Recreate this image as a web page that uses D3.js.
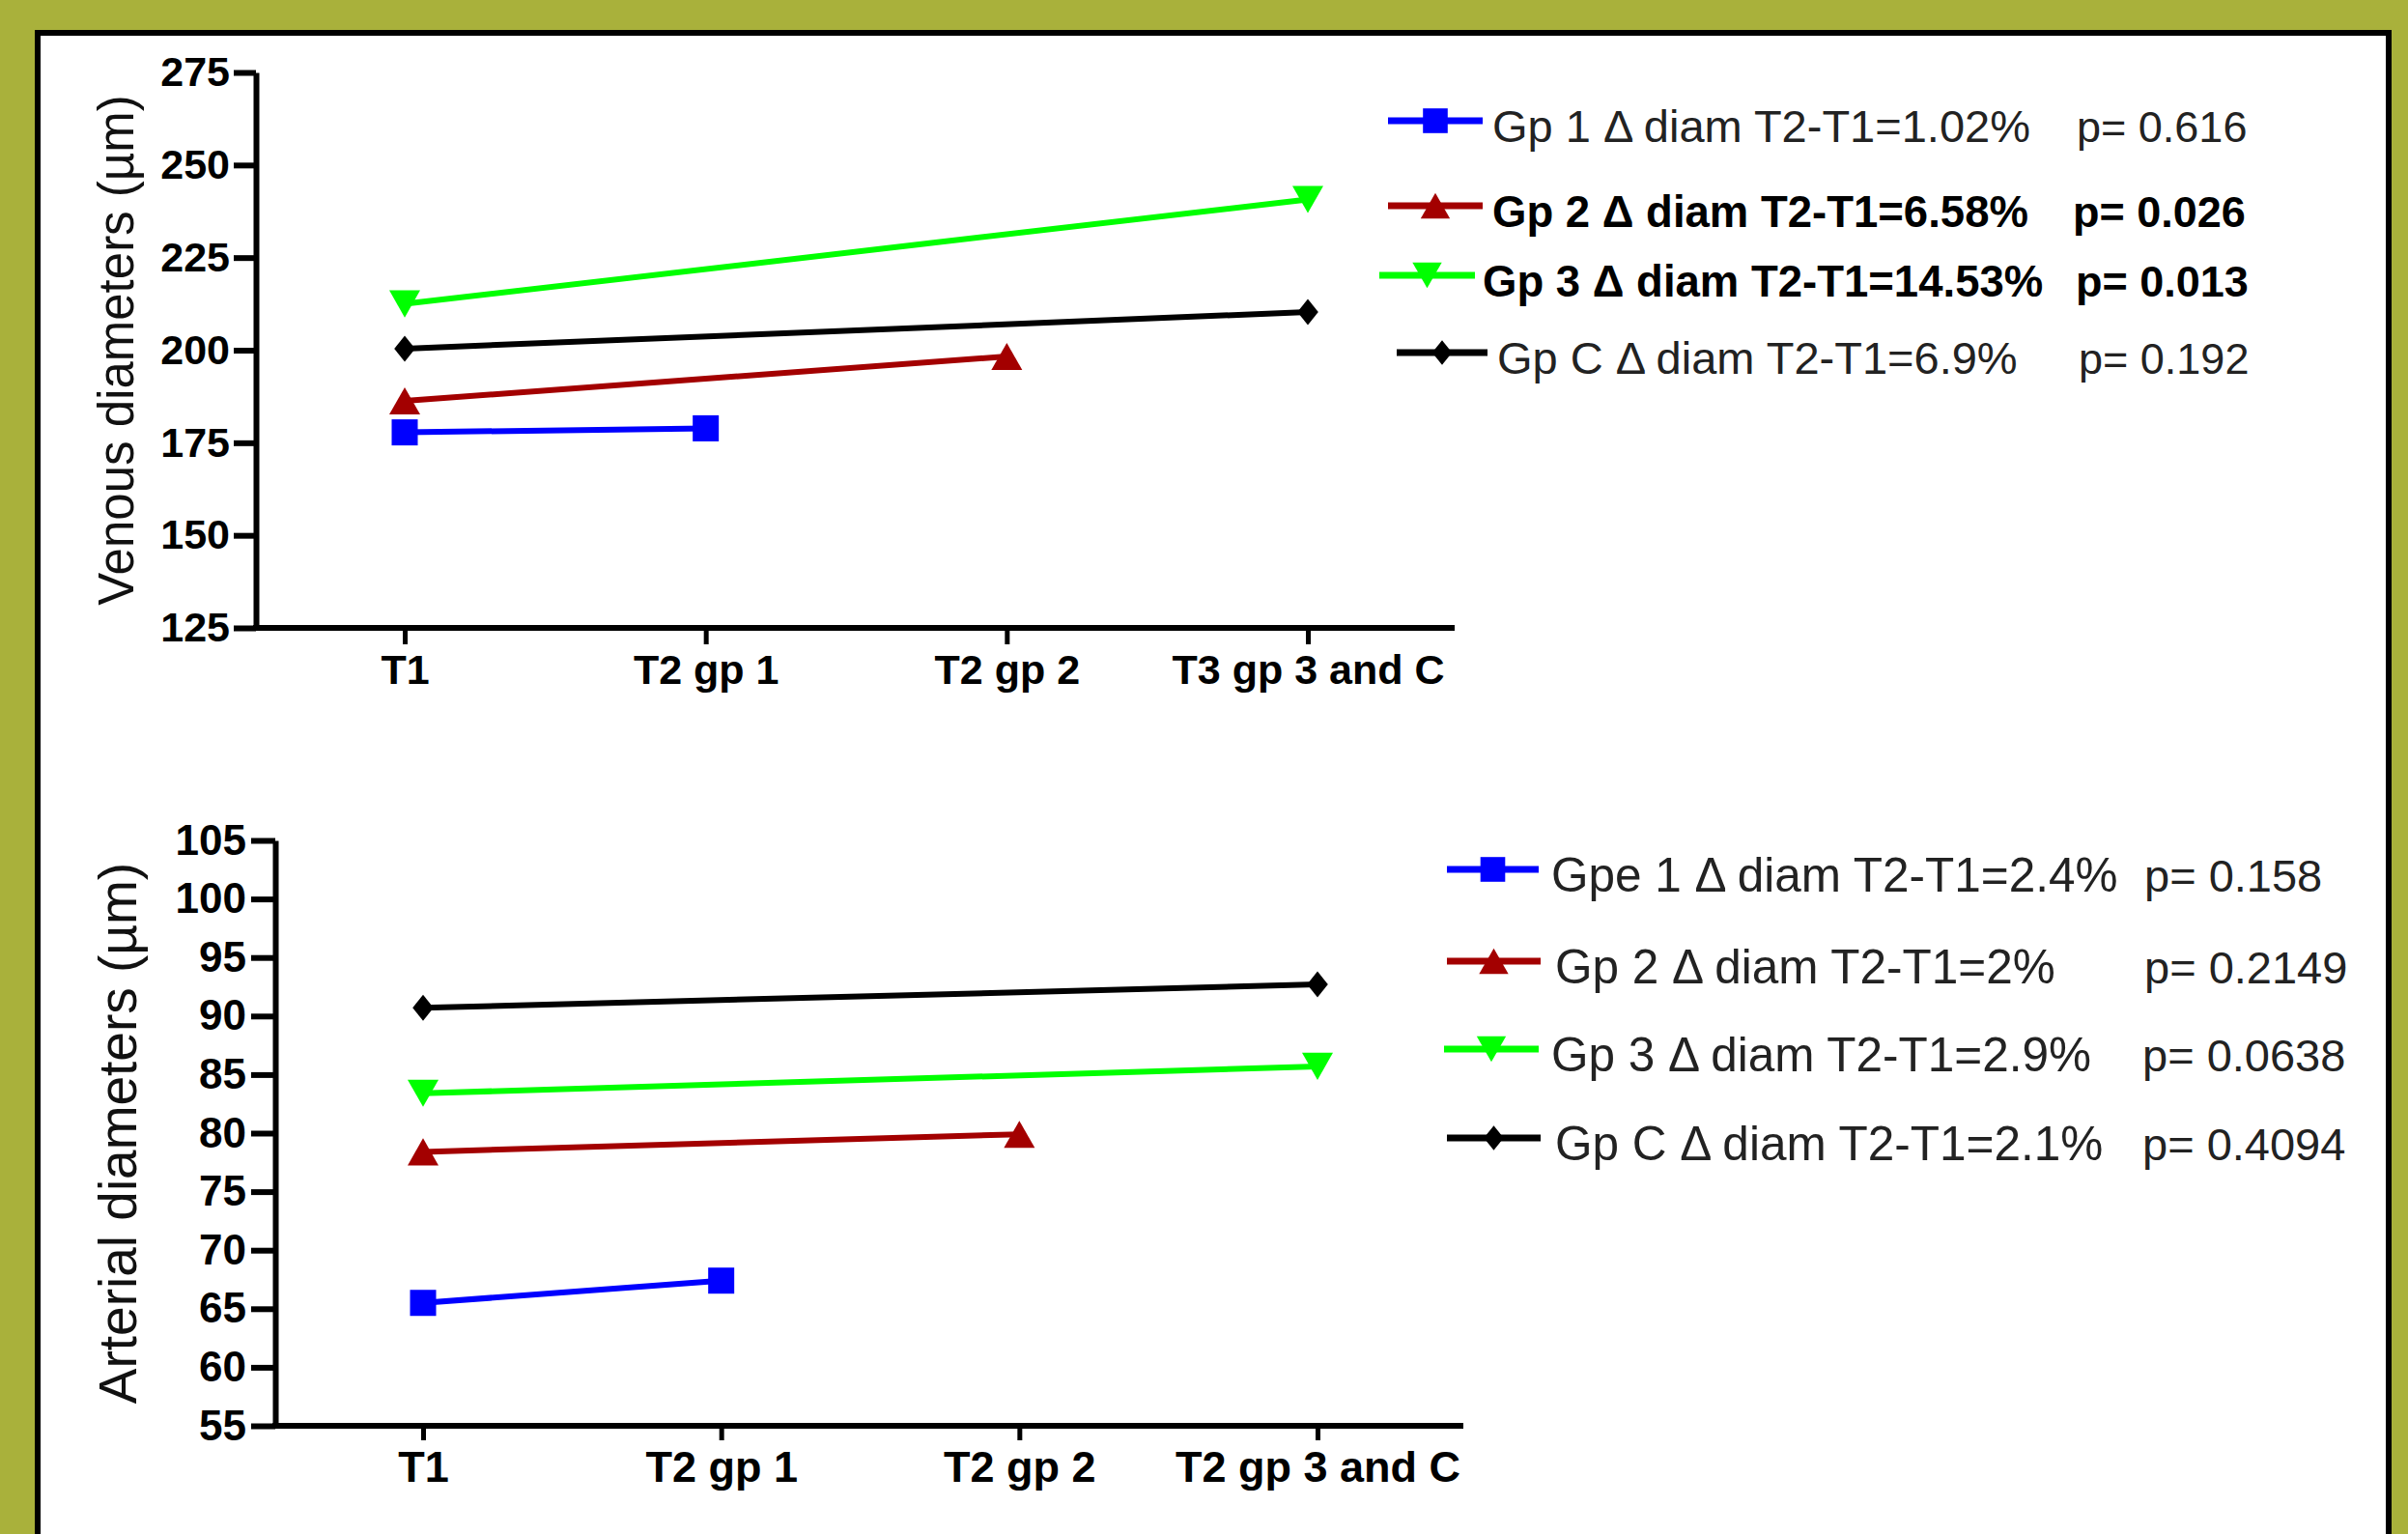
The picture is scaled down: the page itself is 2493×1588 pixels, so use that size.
<!DOCTYPE html>
<html>
<head>
<meta charset="utf-8">
<title>Venous and arterial diameters</title>
<script src="https://d3js.org/d3.v7.min.js"></script>
<style>
  body { margin: 0; background: #a9b13b; }
  svg { display: block; }
</style>
</head>
<body>
<div id="chart"></div>
<script>
// x categories
const venousTimes = ['T1', 'T2 gp 1', 'T2 gp 2', 'T3 gp 3 and C'];
const arterialTimes = ['T1', 'T2 gp 1', 'T2 gp 2', 'T2 gp 3 and C'];

// which category holds the second measure of each group (Gp 1, Gp 2, Gp 3, Gp C)
const secondTimeIndex = [1, 2, 3, 3];

// diameters in µm, [T1, T2] per group
const venousGp1 = [177.8, 178.9];
const venousGp2 = [186.3, 198.3];
const venousGp3 = [212.5, 240.7];
const venousGpC = [200.4, 210.3];

const arterialGp1 = [65.5, 67.4];
const arterialGp2 = [78.4, 79.9];
const arterialGp3 = [83.4, 85.7];
const arterialGpC = [90.7, 92.7];

// y ticks
const venousTicks = [125, 150, 175, 200, 225, 250, 275];
const arterialTicks = [55, 60, 65, 70, 75, 80, 85, 90, 95, 100, 105];

// legend texts
const venousLegend = ['Gp 1 \u0394 diam T2-T1=1.02%', 'Gp 2 \u0394 diam T2-T1=6.58%',
                      'Gp 3 \u0394 diam T2-T1=14.53%', 'Gp C \u0394 diam T2-T1=6.9%'];
const venousP = ['p= 0.616', 'p= 0.026', 'p= 0.013', 'p= 0.192'];
const arterialLegend = ['Gpe 1 \u0394 diam T2-T1=2.4%', 'Gp 2 \u0394 diam T2-T1=2%',
                        'Gp 3 \u0394 diam T2-T1=2.9%', 'Gp C \u0394 diam T2-T1=2.1%'];
const arterialP = ['p= 0.158', 'p= 0.2149', 'p= 0.0638', 'p= 0.4094'];

const colors = ['#0000ff', '#a30000', '#00ff00', '#000000'];
const font = '"Liberation Sans", Arial, sans-serif';

// marker shapes, centred on the point
const square = { draw(c, size) { const s = Math.sqrt(size) / 2; c.rect(-s, -s, 2 * s, 2 * s); } };
const triUp = { draw(c, size) { const w = Math.sqrt(size), h = w * 0.88;
  c.moveTo(0, -h / 2); c.lineTo(w / 2, h / 2); c.lineTo(-w / 2, h / 2); c.closePath(); } };
const triDown = { draw(c, size) { const w = Math.sqrt(size), h = w * 0.88;
  c.moveTo(0, h / 2); c.lineTo(w / 2, -h / 2); c.lineTo(-w / 2, -h / 2); c.closePath(); } };
const diamond = { draw(c, size) { const w = Math.sqrt(size) * 0.8, h = Math.sqrt(size);
  c.moveTo(0, -h / 2); c.lineTo(w / 2, 0); c.lineTo(0, h / 2); c.lineTo(-w / 2, 0); c.closePath(); } };
const shapes = [square, triUp, triDown, diamond];
const shapeSize = [27 * 27, 32 * 32, 32 * 32, 27 * 27];

const W = 2493, H = 1588;
const svg = d3.select('#chart').append('svg')
  .attr('width', W).attr('height', H)
  .attr('font-family', font);

svg.append('rect').attr('width', W).attr('height', H).attr('fill', '#a9b13b');
svg.append('rect')
  .attr('x', 39).attr('y', 34).attr('width', 2473 - 39).attr('height', H)
  .attr('fill', '#fff').attr('stroke', '#000').attr('stroke-width', 6);

function drawPanel(p) {
  const g = svg.append('g');

  const x = d3.scalePoint().domain(p.times).range(p.xRange);
  const y = d3.scaleLinear().domain(d3.extent(p.ticks)).range([p.bottom, p.top]);

  // y axis
  const yAxis = g.append('g')
    .attr('transform', `translate(${p.left},0)`)
    .call(d3.axisLeft(y).tickValues(p.ticks).tickSize(p.yTick).tickSizeOuter(0).tickPadding(p.yPad));
  yAxis.select('.domain').attr('stroke-width', 6).attr('stroke', '#000');
  yAxis.selectAll('.tick line').attr('stroke-width', 6);
  yAxis.selectAll('.tick text')
    .attr('font-size', p.tickFont).attr('font-weight', 'bold').attr('font-family', font).attr('fill', '#000');

  // x axis
  const xAxis = g.append('g')
    .attr('transform', `translate(0,${p.bottom})`)
    .call(d3.axisBottom(x).tickSize(p.xTick).tickSizeOuter(0).tickPadding(p.xPad));
  xAxis.select('.domain').remove();
  xAxis.selectAll('.tick line').attr('stroke-width', 5);
  xAxis.selectAll('.tick text')
    .attr('font-size', p.xFont).attr('font-weight', 'bold').attr('font-family', font).attr('fill', '#000');
  g.append('line')
    .attr('x1', p.left - 3).attr('x2', p.right)
    .attr('y1', p.bottom).attr('y2', p.bottom)
    .attr('stroke', '#000').attr('stroke-width', 6);

  // y title
  g.append('text')
    .attr('transform', `translate(${p.titleX},${(p.top + p.bottom) / 2}) rotate(-90)`)
    .attr('text-anchor', 'middle')
    .attr('font-size', p.titleFont)
    .attr('fill', '#111')
    .text(p.title);

  // group lines and markers
  const line = d3.line().x(d => x(d.t)).y(d => y(d.v));
  p.series.forEach((vals, i) => {
    const pts = [{ t: p.times[0], v: vals[0] }, { t: p.times[secondTimeIndex[i]], v: vals[1] }];
    g.append('path').datum(pts)
      .attr('d', line).attr('fill', 'none')
      .attr('stroke', colors[i]).attr('stroke-width', 6);
    g.selectAll(null).data(pts).enter().append('path')
      .attr('transform', d => `translate(${x(d.t)},${y(d.v)})`)
      .attr('d', d3.symbol().type(shapes[i]).size(shapeSize[i]))
      .attr('fill', colors[i]);
  });

  // legend
  const L = p.legend;
  p.labels.forEach((lab, i) => {
    const ly = L.y[i];
    g.append('line')
      .attr('x1', L.x0[i]).attr('x2', L.x1[i]).attr('y1', ly).attr('y2', ly)
      .attr('stroke', colors[i]).attr('stroke-width', 7);
    g.append('path')
      .attr('transform', `translate(${(L.x0[i] + L.x1[i]) / 2},${ly})`)
      .attr('d', d3.symbol().type(shapes[i]).size(shapeSize[i] * 0.9))
      .attr('fill', colors[i]);
    const weight = L.bold[i] ? 'bold' : 'normal';
    const fill = L.bold[i] ? '#000' : '#222';
    g.append('text')
      .attr('x', L.tx[i]).attr('y', ly + L.dy)
      .attr('font-size', L.bold[i] ? L.boldFont : L.font).attr('font-weight', weight).attr('fill', fill)
      .text(lab);
    g.append('text')
      .attr('x', L.px[i]).attr('y', ly + L.dy)
      .attr('font-size', L.pFont).attr('font-weight', weight).attr('fill', fill)
      .text(p.pvals[i]);
  });
}

drawPanel({
  times: venousTimes, ticks: venousTicks,
  series: [venousGp1, venousGp2, venousGp3, venousGpC],
  labels: venousLegend, pvals: venousP,
  title: 'Venous diameters (\u00b5m)',
  left: 265, right: 1506, top: 75, bottom: 650,
  xRange: [419, 1354],
  yTick: 23, yPad: 4, xTick: 17, xPad: 10,
  tickFont: 43, xFont: 43, titleX: 138, titleFont: 51,
  legend: {
    y: [125, 213, 285, 365],
    x0: [1437, 1437, 1428, 1446], x1: [1535, 1535, 1527, 1540],
    tx: [1545, 1545, 1535, 1550], px: [2150, 2146, 2149, 2152],
    bold: [false, true, true, false], font: 47, boldFont: 45.5, pFont: 45, dy: 22
  }
});

drawPanel({
  times: arterialTimes, ticks: arterialTicks,
  series: [arterialGp1, arterialGp2, arterialGp3, arterialGpC],
  labels: arterialLegend, pvals: arterialP,
  title: 'Arterial diameters (\u00b5m)',
  left: 285, right: 1515, top: 870, bottom: 1476,
  xRange: [438, 1364],
  yTick: 25, yPad: 5, xTick: 15, xPad: 11,
  tickFont: 44, xFont: 45, titleX: 141, titleFont: 55,
  legend: {
    y: [900, 995, 1086, 1178],
    x0: [1498, 1498, 1495, 1498], x1: [1593, 1595, 1593, 1595],
    tx: [1606, 1610, 1606, 1610], px: [2220, 2220, 2218, 2218],
    bold: [false, false, false, false], font: 49.5, boldFont: 49.5, pFont: 47, dy: 23
  }
});
</script>
</body>
</html>
